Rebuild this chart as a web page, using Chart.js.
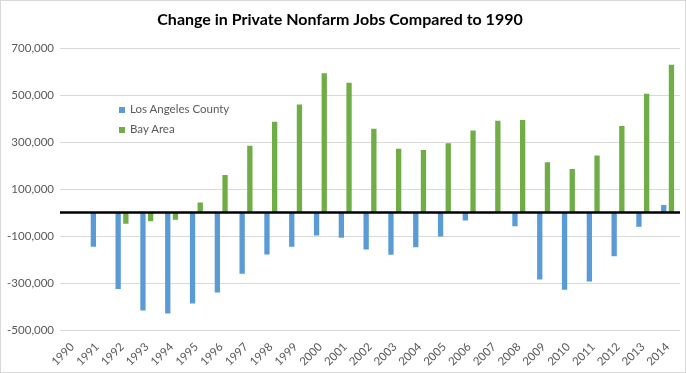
<!DOCTYPE html>
<html>
<head>
<meta charset="utf-8">
<script src="https://cdn.jsdelivr.net/npm/chart.js@4"></script>
<style>
    body { margin: 0; background: #fff; }
    #wrap { position: relative; width: 686px; height: 373px; }
    #frame { position: absolute; left: 0; top: 0; width: 686px; height: 373px; box-sizing: border-box; border: 1px solid #d9d9d9; pointer-events: none; }
    #legend { position: absolute; left: 119px; top: 101px; font-family: Lato, sans-serif; font-size: 11.5px; color: #595959; }
    #legend div { height: 20px; line-height: 16px; white-space: nowrap; }
    #legend span.box { display: inline-block; width: 6px; height: 6px; margin-right: 5px; vertical-align: 0px; }
</style>
</head>
<body>
<div id="wrap">
    <canvas id="chart" width="686" height="373"></canvas>
    <div id="legend"></div>
    <div id="frame"></div>
</div>
<script>
const years = ['1990', '1991', '1992', '1993', '1994', '1995', '1996', '1997', '1998', '1999',
    '2000', '2001', '2002', '2003', '2004', '2005', '2006', '2007', '2008', '2009',
    '2010', '2011', '2012', '2013', '2014'];

const losAngeles = [0, -145000, -325000, -417000, -430000, -387000, -340000, -260000, -179000, -145000,
    -98000, -107000, -157000, -180000, -148000, -102000, -34000, 0, -58000, -285000,
    -329000, -294000, -186000, -60000, 32000];

const bayArea = [0, 0, -48000, -37000, -31000, 43000, 160000, 285000, 387000, 460000,
    593000, 553000, 357000, 272000, 267000, 295000, 350000, 391000, 394000, 214000,
    186000, 243000, 369000, 506000, 630000];

const yTicks = { min: -500000, max: 700000, step: 200000 };

const textGray = '#595959';
const fontName = 'Lato, sans-serif';

// heavy black line at zero, drawn through the y scale
const zeroLine = {
    id: 'zeroLine',
    afterDatasetsDraw(chart) {
        const y = chart.scales.y.getPixelForValue(0);
        const area = chart.chartArea;
        const ctx = chart.ctx;
        ctx.save();
        ctx.strokeStyle = '#000';
        ctx.lineWidth = 2.5;
        ctx.beginPath();
        ctx.moveTo(area.left, y);
        ctx.lineTo(area.right, y);
        ctx.stroke();
        ctx.restore();
    }
};

const chart = new Chart(document.getElementById('chart').getContext('2d'), {
    type: 'bar',
    data: {
        labels: years,
        datasets: [
            { label: 'Los Angeles County', data: losAngeles, backgroundColor: '#5b9bd5' },
            { label: 'Bay Area', data: bayArea, backgroundColor: '#70ad47' }
        ]
    },
    options: {
        responsive: false,
        animation: false,
        datasets: {
            bar: { categoryPercentage: 0.62, barPercentage: 0.69 }
        },
        layout: { padding: { left: 0, right: 6, top: 0, bottom: 0 } },
        plugins: {
            legend: { display: false },
            tooltip: { enabled: false },
            title: {
                display: true,
                text: 'Change in Private Nonfarm Jobs Compared to 1990',
                color: '#000',
                font: { family: fontName, size: 16, weight: 'bold' },
                padding: { top: 10, bottom: 19 }
            }
        },
        scales: {
            x: {
                grid: { display: false },
                border: { display: false },
                ticks: {
                    color: textGray,
                    font: { family: fontName, size: 11.5 },
                    minRotation: 45,
                    maxRotation: 45,
                    autoSkip: false,
                    padding: 2
                },
                afterFit(scale) { scale.height = 43; }
            },
            y: {
                min: yTicks.min,
                max: yTicks.max,
                grid: { color: '#d9d9d9', drawTicks: false },
                border: { display: false },
                ticks: {
                    stepSize: yTicks.step,
                    color: textGray,
                    font: { family: fontName, size: 11.5 },
                    padding: 6,
                    callback: v => v.toLocaleString('en-US')
                },
                afterFit(scale) { scale.width = 60; }
            }
        }
    },
    plugins: [zeroLine]
});

const legend = document.getElementById('legend');
chart.data.datasets.forEach(ds => {
    const row = document.createElement('div');
    const box = document.createElement('span');
    box.className = 'box';
    box.style.background = ds.backgroundColor;
    row.appendChild(box);
    row.appendChild(document.createTextNode(ds.label));
    legend.appendChild(row);
});
</script>
</body>
</html>
